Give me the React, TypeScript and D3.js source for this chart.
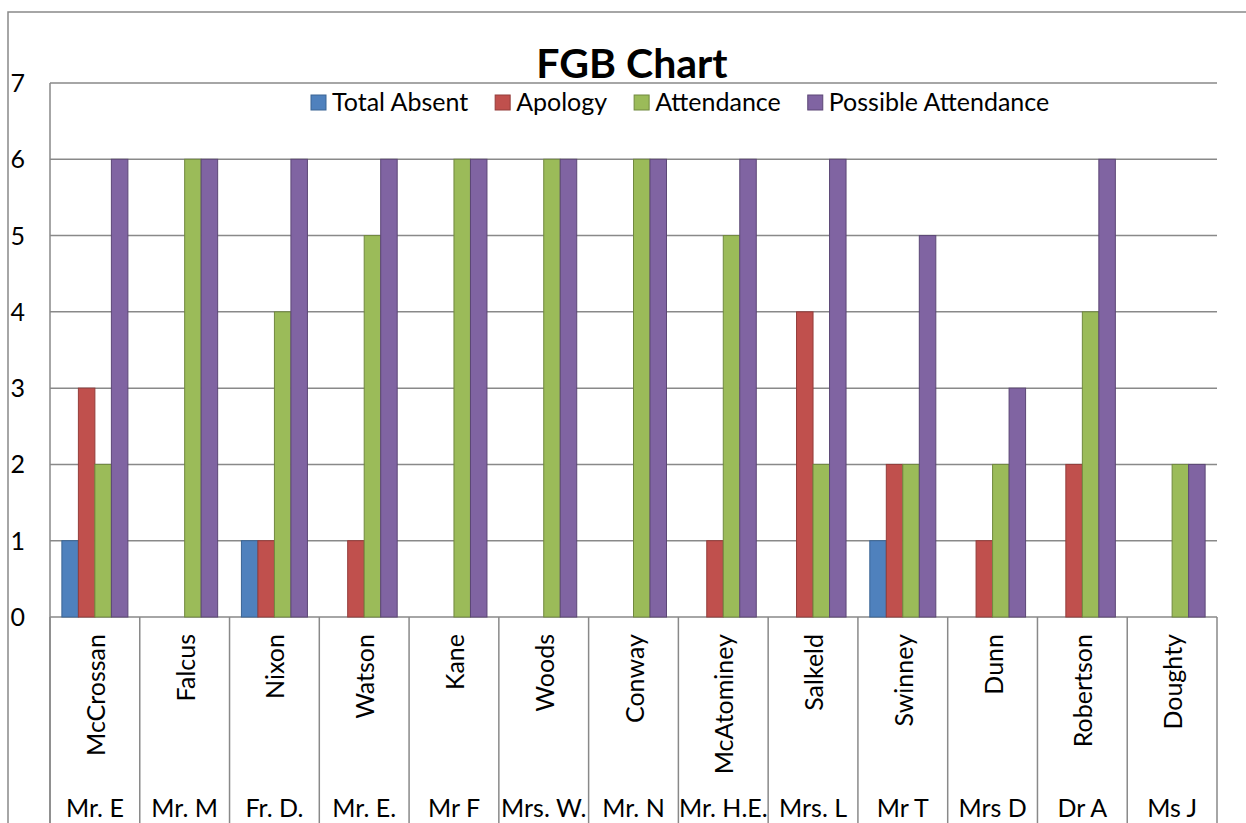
import React, { useEffect, useRef } from 'react';
import * as d3 from 'd3';

const surnames = ['McCrossan', 'Falcus', 'Nixon', 'Watson', 'Kane', 'Woods', 'Conway', 'McAtominey', 'Salkeld', 'Swinney', 'Dunn', 'Robertson', 'Doughty'];
const titles = ['Mr. E', 'Mr. M', 'Fr. D.', 'Mr. E.', 'Mr F', 'Mrs. W.', 'Mr. N', 'Mr. H.E.', 'Mrs. L', 'Mr T', 'Mrs D', 'Dr A', 'Ms J'];
const seriesNames = ['Total Absent', 'Apology', 'Attendance', 'Possible Attendance'];
const totalAbsent = [1, 0, 1, 0, 0, 0, 0, 0, 0, 1, 0, 0, 0];
const apology = [3, 0, 1, 1, 0, 0, 0, 1, 4, 2, 1, 2, 0];
const attendance = [2, 6, 4, 5, 6, 6, 6, 5, 2, 2, 2, 4, 2];
const possibleAttendance = [6, 6, 6, 6, 6, 6, 6, 6, 6, 5, 3, 6, 2];
const yTicks = [0, 1, 2, 3, 4, 5, 6, 7];

const fills = ['#4F81BD', '#C0504D', '#9BBB59', '#8064A2'];
const strokes = ['#3A6494', '#943C3A', '#71893F', '#5C4776'];

const FONT = 'Lato, Calibri, sans-serif';

const App = () => {
  const svgRef = useRef<SVGSVGElement>(null);

  useEffect(() => {
    const svg = d3.select(svgRef.current);
    svg.selectAll('*').remove();

    const width = 1246;
    const height = 823;
    const left = 50;
    const right = 1217;
    const top = 83;
    const bottom = 617;
    const gridColor = '#898989';

    svg.attr('width', width).attr('height', height);

    // chart area border (right/bottom edges fall outside the picture)
    svg.append('rect')
      .attr('x', 8).attr('y', 12)
      .attr('width', width + 20).attr('height', height + 20)
      .attr('fill', 'white')
      .attr('stroke', gridColor)
      .attr('stroke-width', 1.5);

    const series = [totalAbsent, apology, attendance, possibleAttendance];

    const x0 = d3.scaleBand<number>()
      .domain(d3.range(surnames.length))
      .range([left, right])
      .paddingInner(0)
      .paddingOuter(0);

    const x1 = d3.scaleBand<number>()
      .domain(d3.range(series.length))
      .range([0, x0.bandwidth()])
      .paddingInner(0)
      .paddingOuter(0.72);

    const y = d3.scaleLinear().domain([0, 7]).range([bottom, top]);

    // gridlines
    svg.append('g')
      .selectAll('line')
      .data(yTicks)
      .enter().append('line')
      .attr('x1', left).attr('x2', right)
      .attr('y1', d => y(d)).attr('y2', d => y(d))
      .attr('stroke', gridColor)
      .attr('stroke-width', 1.5);

    // y tick labels
    svg.append('g')
      .selectAll('text')
      .data(yTicks)
      .enter().append('text')
      .attr('x', 25)
      .attr('y', d => y(d))
      .attr('dy', '0.36em')
      .attr('text-anchor', 'end')
      .style('font-family', FONT)
      .style('font-size', '25px')
      .text(d => d);

    // bars
    series.forEach((vals, si) => {
      svg.append('g')
        .selectAll('rect')
        .data(vals.map((v, i) => ({ v, i })).filter(d => d.v > 0))
        .enter().append('rect')
        .attr('x', d => (x0(d.i) as number) + (x1(si) as number))
        .attr('y', d => y(d.v))
        .attr('width', x1.bandwidth())
        .attr('height', d => bottom - y(d.v))
        .attr('fill', fills[si])
        .attr('stroke', strokes[si])
        .attr('stroke-width', 1);
    });

    // category axis
    svg.append('line')
      .attr('x1', left).attr('x2', left)
      .attr('y1', top).attr('y2', height)
      .attr('stroke', gridColor).attr('stroke-width', 1.5);

    svg.append('g')
      .selectAll('line')
      .data(d3.range(surnames.length + 1))
      .enter().append('line')
      .attr('x1', d => left + d * x0.step()).attr('x2', d => left + d * x0.step())
      .attr('y1', bottom).attr('y2', height)
      .attr('stroke', gridColor).attr('stroke-width', 1.5);

    const cats = svg.append('g');
    cats.selectAll('text.surname')
      .data(surnames)
      .enter().append('text')
      .attr('class', 'surname')
      .attr('transform', (d, i) => `translate(${(x0(i) as number) + x0.bandwidth() / 2 + 1},634) rotate(-90)`)
      .attr('text-anchor', 'end')
      .attr('dy', '0.36em')
      .style('font-family', FONT)
      .style('font-size', '25px')
      .text(d => d);

    cats.selectAll('text.title')
      .data(titles)
      .enter().append('text')
      .attr('class', 'title')
      .attr('x', (d, i) => (x0(i) as number) + x0.bandwidth() / 2)
      .attr('y', 817)
      .attr('text-anchor', 'middle')
      .style('font-family', FONT)
      .style('font-size', '25px')
      .text(d => d);

    // title
    svg.append('text')
      .attr('x', 632)
      .attr('y', 78)
      .attr('text-anchor', 'middle')
      .style('font-family', FONT)
      .style('font-weight', 'bold')
      .style('font-size', '41px')
      .text('FGB Chart');

    // legend
    const legend = svg.append('g');
    let lx = 311;
    seriesNames.forEach((name, i) => {
      legend.append('rect')
        .attr('x', lx).attr('y', 95)
        .attr('width', 15).attr('height', 15)
        .attr('fill', fills[i])
        .attr('stroke', strokes[i])
        .attr('stroke-width', 1);
      const t = legend.append('text')
        .attr('x', lx + 21)
        .attr('y', 111)
        .style('font-family', FONT)
        .style('font-size', '25px')
        .text(name);
      const w = (t.node() as SVGTextElement).getComputedTextLength();
      lx = lx + 21 + w + 27;
    });
  }, []);

  return <svg ref={svgRef} style={{ position: 'absolute', left: 0, top: 0, display: 'block' }}></svg>;
};

export default App;
